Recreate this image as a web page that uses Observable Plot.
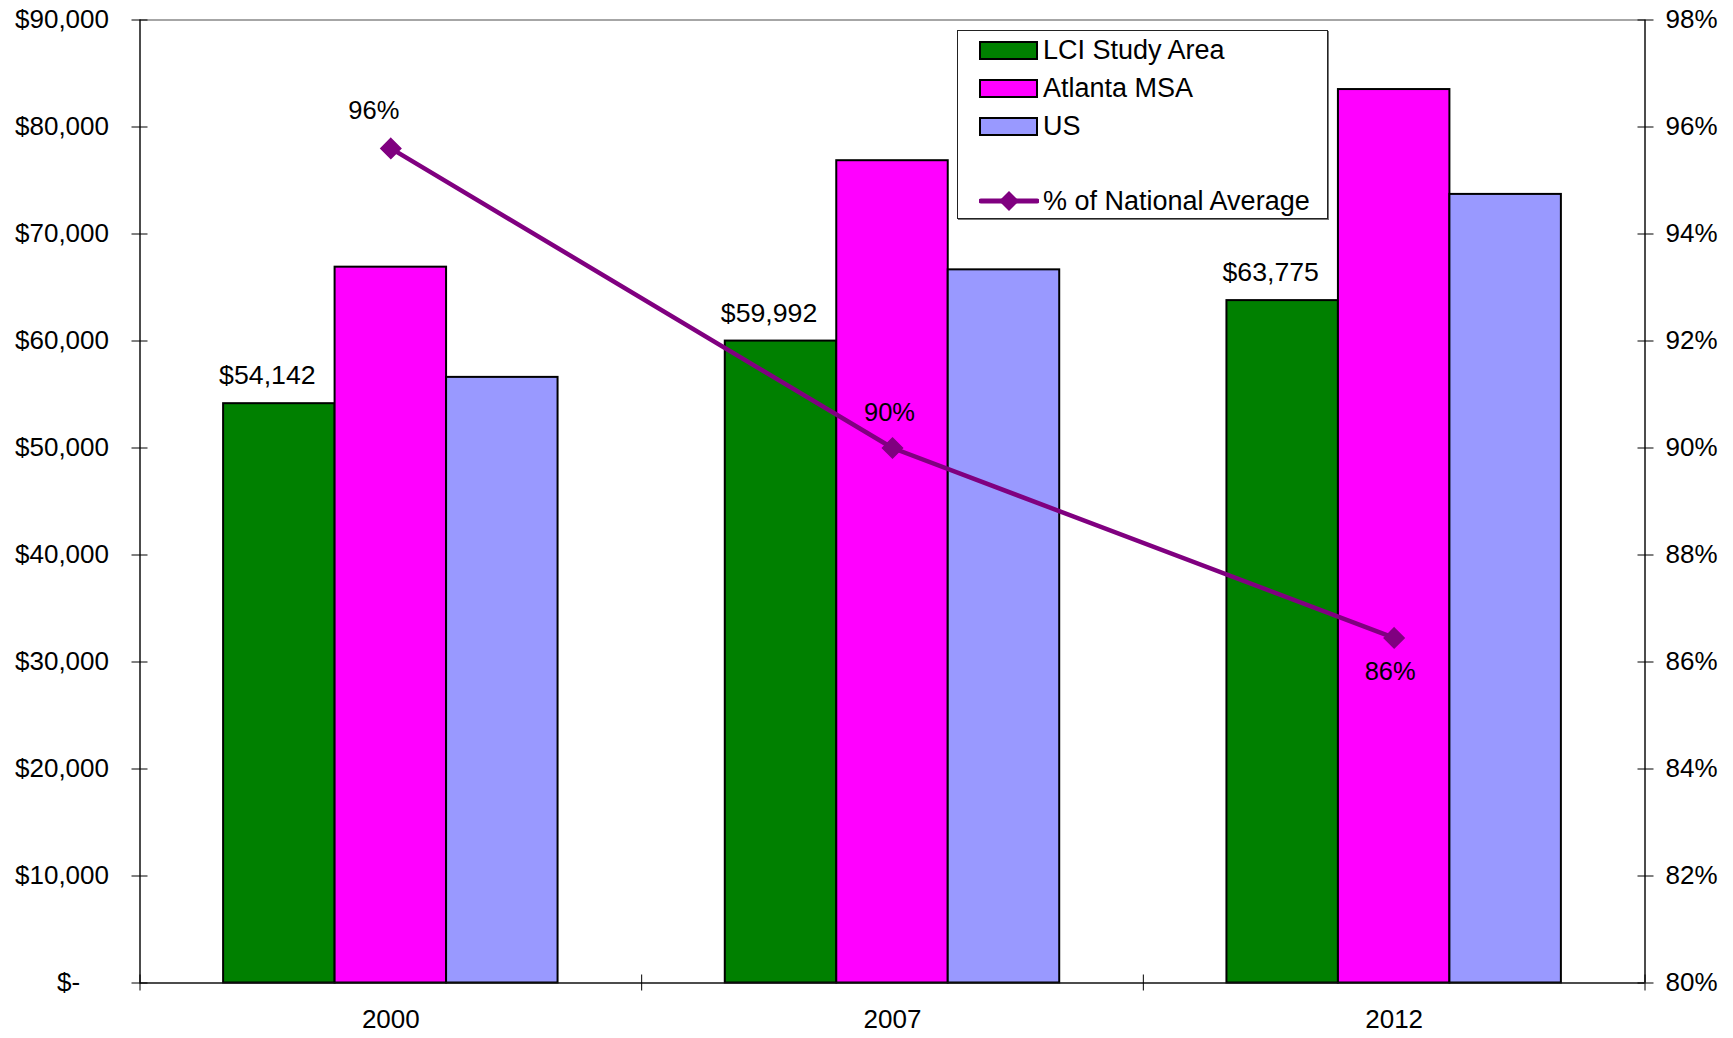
<!DOCTYPE html>
<html>
<head>
<meta charset="utf-8">
<script src="https://cdn.jsdelivr.net/npm/d3@7"></script>
<script src="https://cdn.jsdelivr.net/npm/@observablehq/plot@0.6"></script>
<style>
  html, body { margin: 0; padding: 0; background: #fff; }
  #wrap { position: relative; width: 1733px; height: 1038px; font-family: "Liberation Sans", Arial, sans-serif; }
  #legend {
    position: absolute; left: 957px; top: 30px; width: 371px; height: 189px;
    border: 1px solid #222; box-shadow: 1px 1px 0 #777; background: #fff; box-sizing: border-box;
  }
  .item { position: absolute; left: 21px; height: 26px; display: flex; align-items: center; font-size: 27px; color: #000; white-space: nowrap; }
  .sw { width: 55px; height: 15px; border: 2px solid #000; margin-right: 5px; }
</style>
</head>
<body>
<div id="wrap">
  <div id="chart"></div>
  <div id="legend"></div>
</div>
<script>
// Median household income by year, with the study area as a share of the US figure
const years = ["2000", "2007", "2012"];
const seriesNames = ["LCI Study Area", "Atlanta MSA", "US"];
const lciIncome = [54142, 59992, 63775];
const atlantaIncome = [66900, 76850, 83500];
const usIncome = [56600, 66650, 73700];
const pctOfNational = [95.6, 90.0, 86.45];
const lineName = "% of National Average";
const dollarTicks = [0, 10000, 20000, 30000, 40000, 50000, 60000, 70000, 80000, 90000];
const pctTicks = [80, 82, 84, 86, 88, 90, 92, 94, 96, 98];

const seriesColors = ["#008000", "#ff00ff", "#9999ff"];
const lineColor = "#800080";

// Right axis (80%–98%) is mapped onto the dollar axis (0–90,000)
const pctMin = 80, pctMax = 98, dollarMax = 90000;
const toDollars = p => (p - pctMin) / (pctMax - pctMin) * dollarMax;
const toPct = d => pctMin + d / dollarMax * (pctMax - pctMin);

const seriesValues = [lciIncome, atlantaIncome, usIncome];
const bars = years.flatMap((year, i) =>
  seriesNames.map((name, j) => ({year, i, j, series: name, value: seriesValues[j][i]})));
const lciBars = bars.filter(d => d.j === 0);
const pctRows = years.map((year, i) => ({year, i, pct: pctOfNational[i]}));

// Each year occupies one unit of x; the three bars fill the middle two thirds
const groupPad = 1 / 6, barW = (1 - 2 * groupPad) / seriesNames.length;
const barX1 = d => d.i + groupPad + d.j * barW;
const barX2 = d => d.i + groupPad + (d.j + 1) * barW;
const center = d => d.i + 0.5;
const pctY = d => toDollars(d.pct);

const money = d => d === 0 ? "$-\u2007\u2007" : "$" + d3.format(",")(d);
const pctLabel = d => Math.round(d.pct) + "%";

const chart = Plot.plot({
  width: 1733,
  height: 1038,
  marginLeft: 139.5,
  marginRight: 88.5,
  marginTop: 19.5,
  marginBottom: 55.5,
  style: {fontFamily: "'Liberation Sans', Arial, sans-serif", fontSize: "26px", color: "#000", background: "#fff"},
  x: {domain: [0, years.length]},
  y: {domain: [0, dollarMax]},
  color: {domain: seriesNames, range: seriesColors},
  marks: [
    Plot.rectY(bars, {x1: barX1, x2: barX2, y: "value", fill: "series", stroke: "#000", strokeWidth: 2}),
    Plot.ruleY([dollarMax], {stroke: "#888", strokeWidth: 1.5}),
    Plot.ruleY([0], {stroke: "#111", strokeWidth: 1.5}),
    Plot.ruleX([0], {stroke: "#111", strokeWidth: 1.5}),
    Plot.ruleX([years.length], {stroke: "#111", strokeWidth: 1.5}),
    Plot.axisY({anchor: "left", ticks: dollarTicks, tickFormat: money, tickSize: 16, dx: 8, tickPadding: 23, fontSize: 26, label: null}),
    Plot.axisY({anchor: "right", ticks: pctTicks.map(toDollars), tickFormat: d => Math.round(toPct(d)) + "%", tickSize: 16, dx: -8, tickPadding: 12.5, fontSize: 26, label: null}),
    Plot.axisX({ticks: d3.range(0, years.length + 1), tickSize: 16, dy: -8, tickFormat: () => "", label: null}),
    Plot.axisX({ticks: years.map((y, i) => i + 0.5), tickSize: 0, tickPadding: 27, tickFormat: v => years[Math.floor(v)], fontSize: 26, label: null}),
    Plot.line(pctRows, {x: center, y: pctY, stroke: lineColor, strokeWidth: 4.5}),
    Plot.dot(pctRows, {x: center, y: pctY, symbol: "diamond2", r: 9, fill: lineColor, stroke: lineColor}),
    Plot.text(lciBars, {x: d => (barX1(d) + barX2(d)) / 2, y: "value", text: d => money(d.value), dx: -12, dy: -28, fontSize: 26.7, fill: "#000"}),
    Plot.text(pctRows.slice(0, 1), {x: center, y: pctY, text: pctLabel, dx: -17, dy: -38, fontSize: 25.5, fill: "#000"}),
    Plot.text(pctRows.slice(1, 2), {x: center, y: pctY, text: pctLabel, dx: -3, dy: -35, fontSize: 25.5, fill: "#000"}),
    Plot.text(pctRows.slice(2), {x: center, y: pctY, text: pctLabel, dx: -4, dy: 34, fontSize: 25.5, fill: "#000"})
  ]
});
document.getElementById("chart").appendChild(chart);

// Legend box inside the plot area
const legend = document.getElementById("legend");
seriesNames.forEach((name, j) => {
  const item = document.createElement("div");
  item.className = "item";
  item.style.top = (6 + j * 38) + "px";
  const sw = document.createElement("div");
  sw.className = "sw";
  sw.style.background = seriesColors[j];
  item.appendChild(sw);
  item.appendChild(document.createTextNode(name));
  legend.appendChild(item);
});
const lineItem = document.createElement("div");
lineItem.className = "item";
lineItem.style.top = "157px";
lineItem.innerHTML =
  `<svg width="60" height="26" style="margin-right:4px"><line x1="2" y1="13" x2="58" y2="13" stroke="${lineColor}" stroke-width="5" stroke-linecap="round"/>` +
  `<path d="M30,3 L40,13 L30,23 L20,13 Z" fill="${lineColor}"/></svg>`;
lineItem.appendChild(document.createTextNode(lineName));
legend.appendChild(lineItem);
</script>
</body>
</html>
